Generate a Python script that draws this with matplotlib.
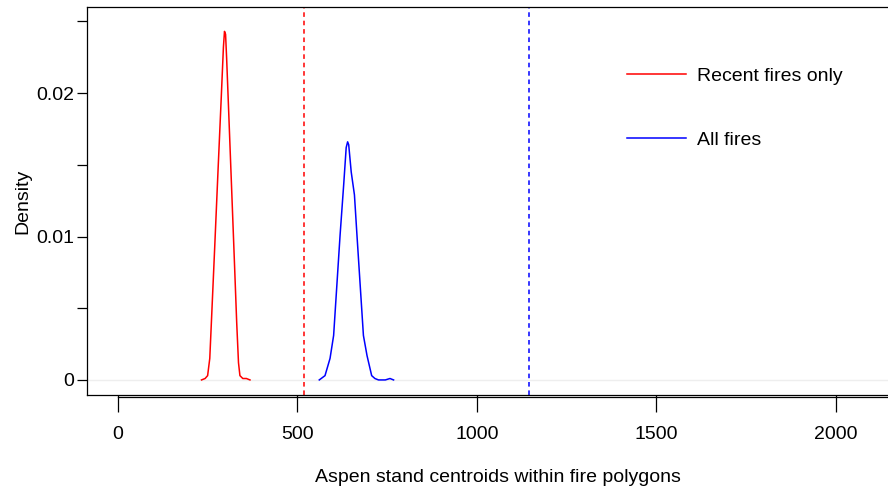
import numpy as np
import matplotlib.pyplot as plt
from matplotlib.transforms import blended_transform_factory

plt.rcParams['font.family'] = ['Liberation Sans', 'DejaVu Sans']

# --- density curves ---
recent_x = [233, 243, 250, 256, 261, 270, 279, 288, 294, 297, 300, 303, 309,
            318, 325, 331, 336, 340, 348, 358, 368]
recent_y = [0, 0.0001, 0.0003, 0.0015, 0.0043, 0.0094, 0.0146, 0.0197, 0.0232,
            0.0243, 0.0241, 0.0224, 0.0185, 0.0126, 0.0080, 0.0040, 0.0012,
            0.0003, 0.0001, 0.0001, 0]

all_x = [561, 577, 591, 601, 610, 619, 629, 636, 640, 643, 650, 659, 666, 675,
         684, 694, 707, 716, 726, 745, 758, 768]
all_y = [0, 0.0003, 0.0015, 0.0031, 0.0066, 0.0101, 0.0136, 0.0162, 0.0166,
         0.0164, 0.0145, 0.0129, 0.0101, 0.0066, 0.0031, 0.0017, 0.0003,
         0.0001, 0, 0, 0.0001, 0]

# observed values (dashed lines)
recent_obs = 518
all_obs = 1145

labels = ["Recent fires only", "All fires"]
colors = ["#ff0000", "#0000ff"]

x_ticks = [0, 500, 1000, 1500, 2000]
y_major = [0, 0.01, 0.02]
y_minor = [0.005, 0.015, 0.025]

fs = 14

fig = plt.figure(figsize=(8.88, 4.87), dpi=100)
ax = fig.add_axes([87 / 888, 92 / 487, 821 / 888, 388 / 487])

ax.axhline(0, color='#eeeeee', lw=1, zorder=0)
ax.plot(recent_x, recent_y, color=colors[0], lw=1.1, label=labels[0])
ax.plot(all_x, all_y, color=colors[1], lw=1.1, label=labels[1])
ax.axvline(recent_obs, color=colors[0], lw=1.1, ls=(0, (3, 2.5)))
ax.axvline(all_obs, color=colors[1], lw=1.1, ls=(0, (3, 2.5)))

ax.set_xlim(-86, 2201)
ax.set_ylim(-0.00105, 0.026)

ax.set_xticks(x_ticks)
ax.set_xticklabels([str(t) for t in x_ticks])
ax.set_yticks(y_major)
ax.set_yticklabels(['0', '0.01', '0.02'])
ax.set_yticks(y_minor, minor=True)

ax.tick_params(axis='x', direction='out', length=12.5, width=0.9, pad=10,
               labelsize=fs)
ax.tick_params(axis='y', which='both', direction='out', length=7, width=0.9,
               pad=2.5, labelsize=fs)

# R-style axis line sitting just under the box
tr = blended_transform_factory(ax.transData, ax.transAxes)
ax.plot([0, 2201], [-0.005, -0.005], color='black', lw=0.9, transform=tr,
        clip_on=False)

for s in ax.spines.values():
    s.set_linewidth(0.9)

ax.set_xlabel("Aspen stand centroids within fire polygons", fontsize=fs,
              labelpad=18.5)
ax.set_ylabel("Density", fontsize=fs, labelpad=3)

ax.legend(loc='upper left', bbox_to_anchor=(627 / 888, 1 - 67 / 487),
          bbox_transform=fig.transFigure, frameon=False, fontsize=fs,
          handlelength=3.05, handletextpad=0.57, labelspacing=2.4,
          borderpad=0, borderaxespad=0)

fig.savefig("out.png", dpi=100)
